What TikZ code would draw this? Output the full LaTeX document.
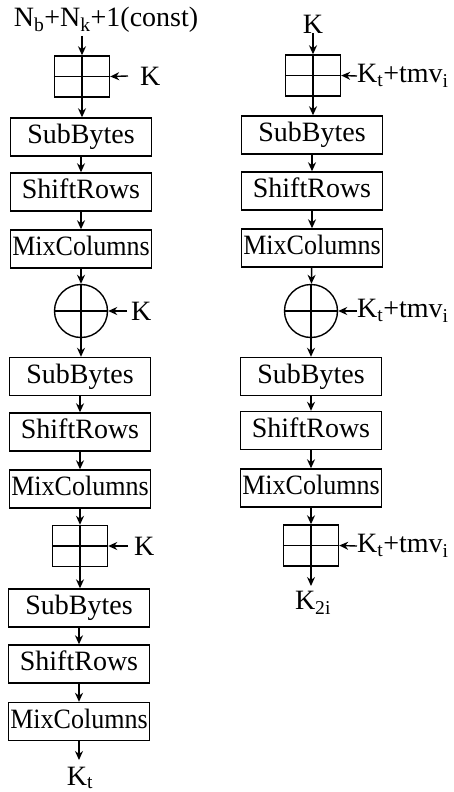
\documentclass[tikz,border=0pt]{standalone}
\usepackage{fontspec}
\setmainfont{Liberation Serif}
\usetikzlibrary{arrows.meta}
\newcommand{\mcol}{\scalebox{0.93}[1]{MixColumns}}
\begin{document}
\begin{tikzpicture}[x=1pt,y=-1pt,
  lw/.style={line width=1.4pt},
  opbox/.style={draw, lw, minimum width=141pt, minimum height=38pt, inner sep=0pt,
    font=\fontsize{28}{30}\selectfont, text height=19pt, text depth=6pt},
  gridbox/.style={draw, lw, minimum width=55pt, minimum height=41pt, inner sep=0pt},
  xorc/.style={draw, circle, lw, minimum size=53pt, inner sep=0pt},
  lab/.style={inner sep=0pt, font=\fontsize{28}{30}\selectfont},
  arr/.style={lw, -{Stealth[length=9pt,width=8pt]}}]
\useasboundingbox (0,0) rectangle (454,792);
% ---------- left column ----------
\node[lab] (title) at (106,20) {N\textsubscript{b}+N\textsubscript{k}+1(const)};
\node[gridbox] (g1) at (82,76.5) {};
\node[opbox] (sb1) at (81,137) {SubBytes};
\node[opbox] (sr1) at (81,192) {ShiftRows};
\node[opbox] (mc1) at (81,249) {\mcol};
\node[xorc] (x1) at (81,311) {};
\node[opbox] (sb2) at (80,376.5) {SubBytes};
\node[opbox] (sr2) at (80,432) {ShiftRows};
\node[opbox] (mc2) at (80,489) {\mcol};
\node[gridbox] (g2) at (80,546) {};
\node[opbox] (sb3) at (79,608) {SubBytes};
\node[opbox] (sr3) at (79,664) {ShiftRows};
\node[opbox] (mc3) at (79,721.5) {\mcol};
\coordinate (kte) at (79,760);
\node[lab] (kt) at (80,778) {K\textsubscript{t}};
\node[lab,anchor=west] (k1) at (140,76) {K};
\node[lab,anchor=west] (k2) at (131,311) {K};
\node[lab,anchor=west] (k3) at (134,546) {K};
% ---------- right column ----------
\node[lab] (kin) at (313,24) {K};
\node[gridbox] (g3) at (313,75.5) {};
\node[opbox] (sb4) at (312,135) {SubBytes};
\node[opbox] (sr4) at (312,191) {ShiftRows};
\node[opbox] (mc4) at (312,248) {\mcol};
\node[xorc] (x2) at (311,311) {};
\node[opbox] (sb5) at (311,376.5) {SubBytes};
\node[opbox] (sr5) at (311,430.5) {ShiftRows};
\node[opbox] (mc5) at (311,488) {\mcol};
\node[gridbox] (g4) at (311,545.5) {};
\coordinate (k2e) at (311,586);
\node[lab] (k2i) at (313,603) {K\textsubscript{2i}};
\node[lab,anchor=west] (t1) at (357,76) {K\textsubscript{t}+tmv\textsubscript{i}};
\node[lab,anchor=west] (t2) at (357,311) {K\textsubscript{t}+tmv\textsubscript{i}};
\node[lab,anchor=west] (t3) at (357,546) {K\textsubscript{t}+tmv\textsubscript{i}};
% ---------- inner lines of grids and xors ----------
\foreach \n in {g1,g2,g3,g4,x1,x2}{
  \draw[lw] (\n.west) -- (\n.east);
  \draw[lw] (\n.north) -- (\n.south);
}
% ---------- vertical flow ----------
\draw[arr] (title.south -| g1.north) ++(0,3) -- (g1.north);
\draw[arr] (g1.south) -- (sb1.north -| g1.south);
\draw[arr] (sb1) -- (sr1);
\draw[arr] (sr1) -- (mc1);
\draw[arr] (mc1) -- (x1);
\draw[arr] (x1.south) -- (sb2.north -| x1.south);
\draw[arr] (sb2) -- (sr2);
\draw[arr] (sr2) -- (mc2);
\draw[arr] (mc2) -- (g2);
\draw[arr] (g2.south) -- (sb3.north -| g2.south);
\draw[arr] (sb3) -- (sr3);
\draw[arr] (sr3) -- (mc3);
\draw[arr] (mc3) -- (kte);
\draw[arr] (kin) -- (g3.north);
\draw[arr] (g3.south) -- (sb4.north -| g3.south);
\draw[arr] (sb4) -- (sr4);
\draw[arr] (sr4) -- (mc4);
\draw[arr] (mc4) -- (x2);
\draw[arr] (x2.south) -- (sb5.north -| x2.south);
\draw[arr] (sb5) -- (sr5);
\draw[arr] (sr5) -- (mc5);
\draw[arr] (mc5) -- (g4);
\draw[arr] (g4.south) -- (k2e);
% ---------- side inputs ----------
\draw[arr] (k1.west) ++(-12,0) -- (g1.east);
\draw[arr] (k2.west) ++(-4,0) -- (x1.east);
\draw[arr] (k3.west) ++(-6,0) -- (g2.east);
\draw[arr] (t1.west) -- (g3.east);
\draw[arr] (t2.west) -- (x2.east);
\draw[arr] (t3.west) -- (g4.east);
\end{tikzpicture}
\end{document}
